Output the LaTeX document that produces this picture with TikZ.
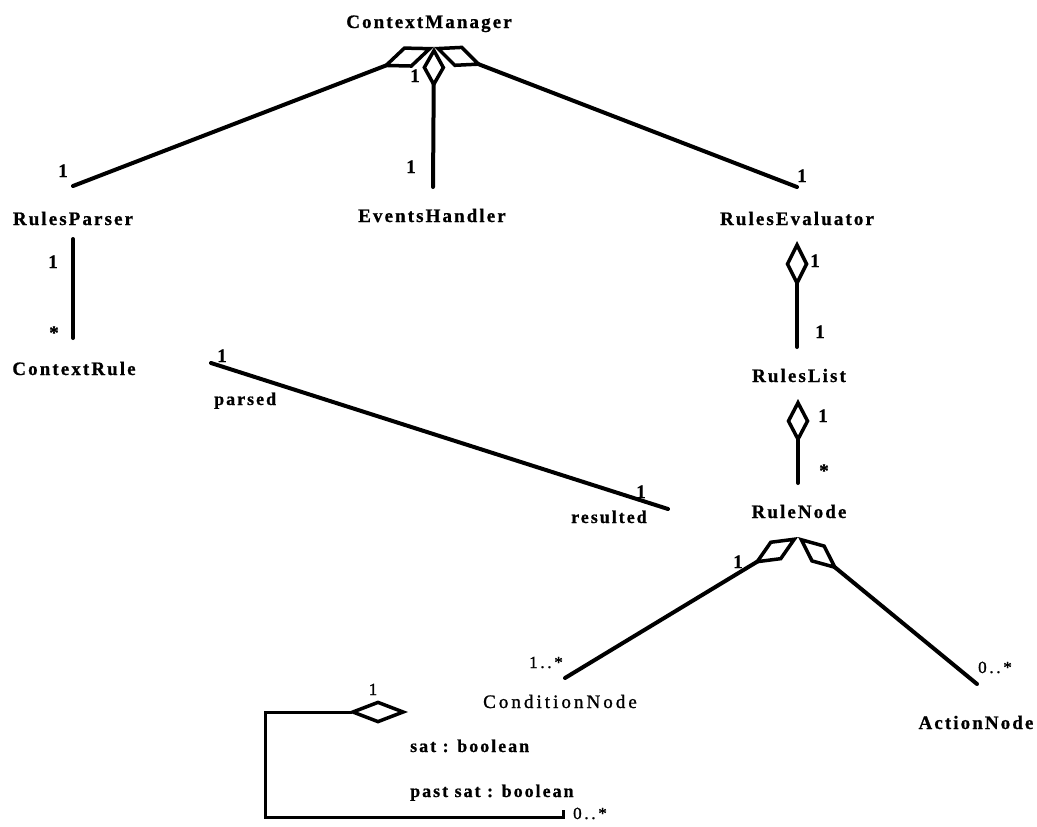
\documentclass[tikz,border=0pt]{standalone}
\usepackage{fontspec}
\setmainfont{Liberation Serif}
\newfontfamily\clsfont[LetterSpace=11, FakeBold=0.8]{Liberation Serif}
\newfontfamily\condfont[LetterSpace=16, FakeBold=1.2]{Liberation Serif}
\usetikzlibrary{arrows.meta, positioning}

\begin{document}
\begin{tikzpicture}[
    x=1pt, y=-1pt,
    cls/.style  ={anchor=base, inner sep=0pt,
                  font=\clsfont\fontsize{19}{22}\selectfont\bfseries},
    mul/.style  ={anchor=base, inner sep=0pt,
                  font=\clsfont\fontsize{19}{22}\selectfont\bfseries},
    rng/.style  ={anchor=base, inner sep=0pt,
                  font=\condfont\fontsize{17}{20}\selectfont},
    rol/.style  ={anchor=base west, inner sep=0pt,
                  font=\clsfont\fontsize{18}{21}\selectfont\bfseries},
    assoc/.style={line width=4pt, line cap=round, line join=round},
    agg/.style  ={assoc, {Diamond[open, length=#1, width=23pt, line width=3.5pt]}-},
    agg/.default=46pt,
]
\path[use as bounding box, fill=white] (0,0) rectangle (1037,827);

% classes
\node[cls] (cm) at (429,28)  {ContextManager};
\node[cls] (rp) at (73,225)  {RulesParser};
\node[cls] (eh) at (432,222) {EventsHandler};
\node[cls] (re) at (797,225) {RulesEvaluator};
\node[cls] (cr) at (74,375)  {ContextRule};
\node[cls] (rl) at (799,382) {RulesList};
\node[cls] (rn) at (799,518) {RuleNode};
\node[cls, font=\condfont\fontsize{19}{22}\selectfont] (cn) at (560,708) {ConditionNode};
\node[cls] (an) at (976,729) {ActionNode};

% line ends
\coordinate (cmHub) at (434,47);
\coordinate (rpTop) at (73,186);
\coordinate (ehTop) at (433,187);
\coordinate (reTop) at (797,187);
\coordinate (rpBot) at (73,239);
\coordinate (crTop) at (73,338);
\coordinate (crEnd) at (211,363);
\coordinate (rnEnd) at (668,509);
\coordinate (reBot) at (797,241);
\coordinate (rlTop) at (797,347);
\coordinate (rlBot) at (798,399);
\coordinate (rnTop) at (798,483);
\coordinate (rnHub) at (798,537);
\coordinate (cnEnd) at (565,678);
\coordinate (anEnd) at (977,684);
\coordinate (cnSelf) at (408,712);
\coordinate (loopEnd) at (563,817);

% associations
\draw[agg=56pt] (cmHub) -- (rpTop);
\draw[agg=41pt] (cmHub) -- (ehTop);
\draw[agg=52pt] (cmHub) -- (reTop);
\draw[assoc] (rpBot) -- (crTop);
\draw[assoc] (crEnd) -- (rnEnd);
\draw[agg=46pt] (reBot) -- (rlTop);
\draw[agg=44pt] (rlBot) -- (rnTop);
\draw[agg=52pt] (rnHub) -- (cnEnd);
\draw[agg=52pt] (rnHub) -- (anEnd);
\draw[agg=60pt, line width=3pt, line cap=butt, line join=miter]
    (cnSelf) -- ++(-143,0) |- (loopEnd) -- ++(0,-7);

% multiplicities
\node[mul] (m1)  at (63,177)  {1};
\node[mul] (m2)  at (415,82)  {1};
\node[mul] (m3)  at (411,173) {1};
\node[mul] (m4)  at (802,182) {1};
\node[mul] (m5)  at (53,268)  {1};
\node[mul] (m6)  at (54,339)  {*};
\node[mul] (m7)  at (222,362) {1};
\node[mul] (m8)  at (641,498) {1};
\node[mul] (m9)  at (815,267) {1};
\node[mul] (m10) at (820,338) {1};
\node[mul] (m11) at (823,422) {1};
\node[mul] (m12) at (824,477) {*};
\node[mul] (m13) at (738,568) {1};
\node[rng] (m14) at (546,668) {1..*};
\node[rng] (m15) at (995,673) {0..*};
\node[rng] (m16) at (373,695) {1};
\node[rng] (m17) at (590,819) {0..*};

% roles and attributes
\node[rol] (parsed)   at (214,405) {parsed};
\node[rol] (resulted) at (571,523) {resulted};
\node[rol] (sat)      at (410,752) {sat : boolean};
\node[rol] (pastsat)  at (410,797) {past sat : boolean};
\end{tikzpicture}
\end{document}
